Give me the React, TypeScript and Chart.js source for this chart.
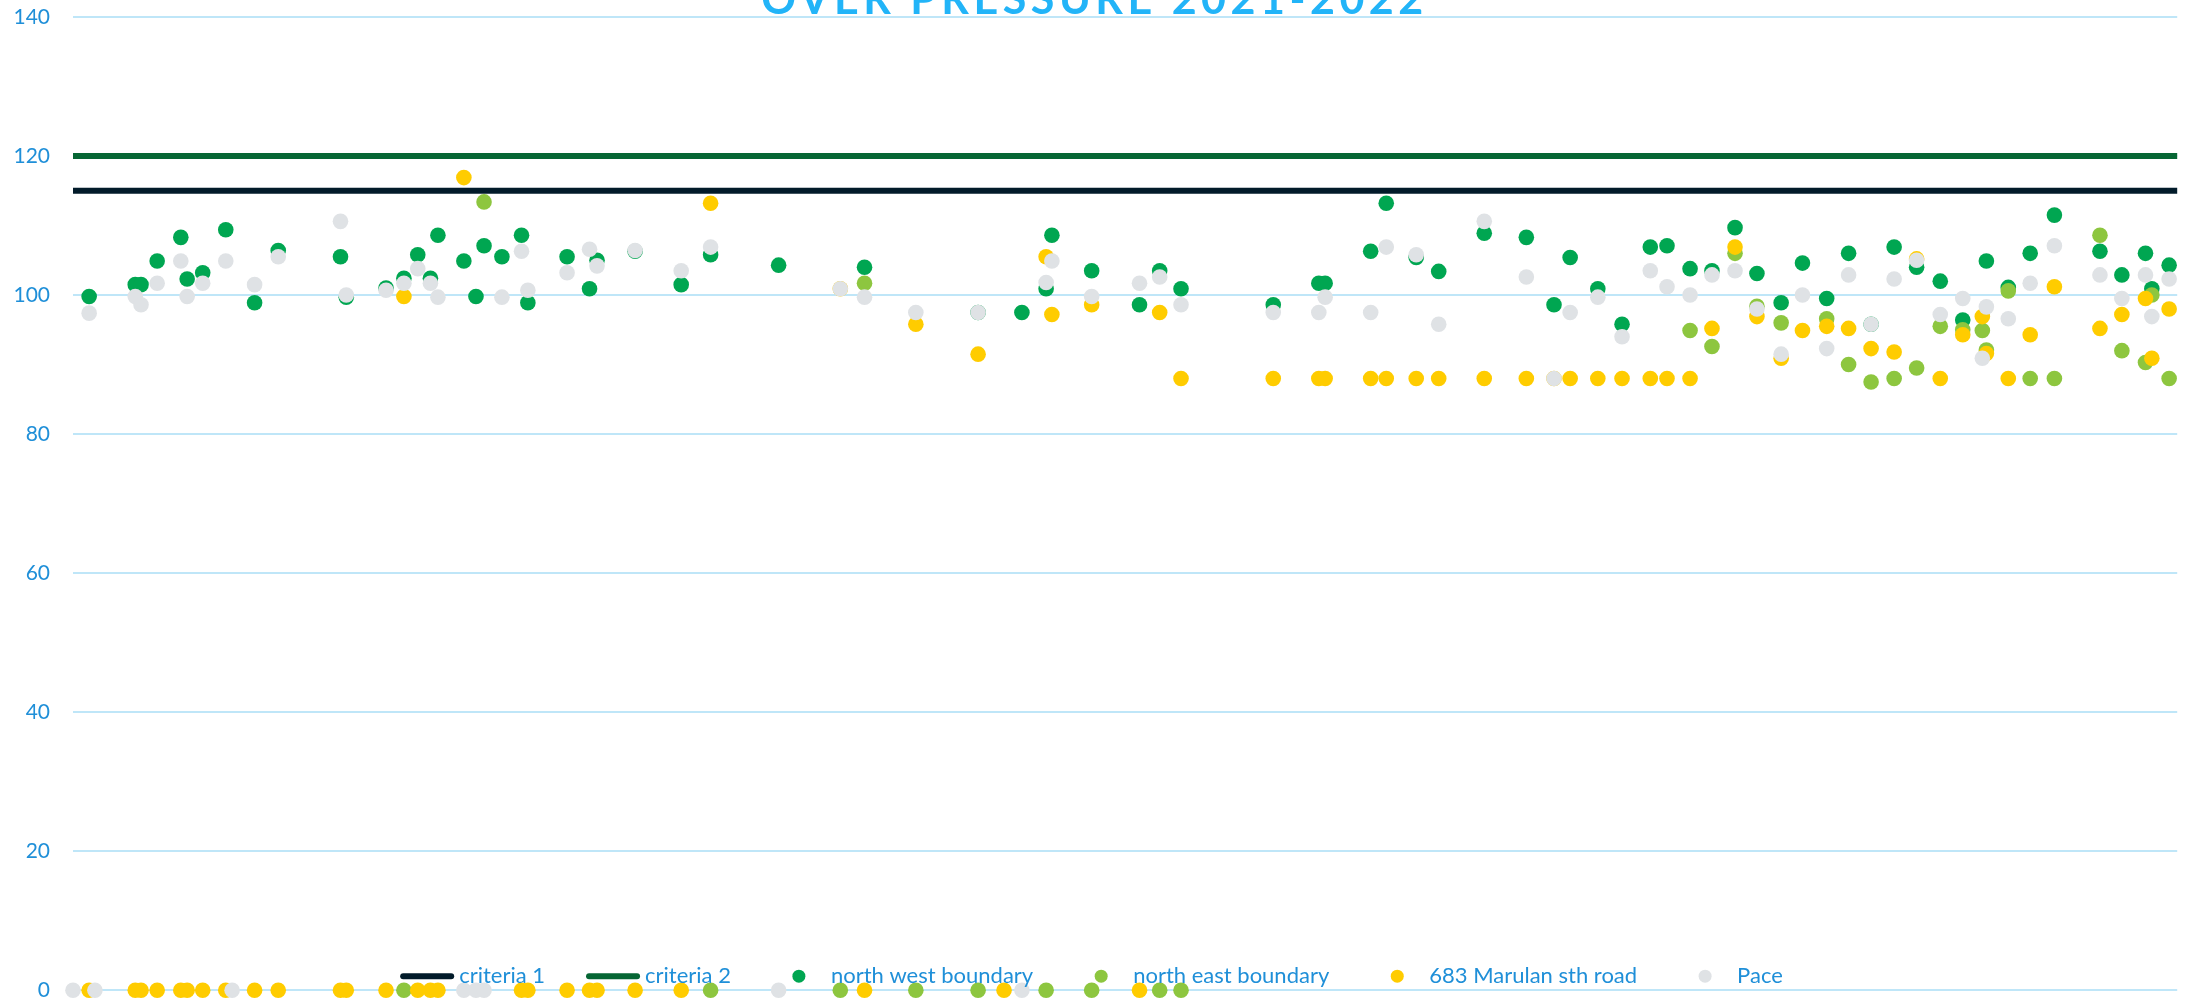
import React, { useEffect, useRef } from "react";
import { Chart, registerables } from "chart.js";

Chart.register(...registerables);

// ---- Data -------------------------------------------------------------
const chartTitle = "OVER PRESSURE 2021-2022";

// blast day (days since 1 July 2021)
const blastDay = [
  0.0, 2.8, 3.8, 10.8, 11.8, 14.6, 18.7, 19.8, 22.5, 26.5,
  27.6, 31.5, 35.6, 46.4, 47.4, 54.3, 57.4, 59.8, 62.0, 63.3,
  67.8, 69.9, 71.3, 74.4, 77.8, 78.9, 85.7, 89.6, 90.9, 97.5,
  105.5, 110.6, 122.4, 133.1, 137.3, 146.2, 157.0, 161.5, 164.6, 168.8,
  169.8, 176.7, 185.0, 188.5, 192.2, 208.2, 216.1, 217.2, 225.1, 227.8,
  233.0, 236.9, 244.8, 252.1, 256.9, 259.7, 264.5, 268.7, 273.6, 276.5,
  280.5, 284.3, 288.3, 292.1, 296.3, 300.0, 304.2, 308.0, 311.9, 315.9,
  319.8, 323.9, 327.8, 331.2, 331.9, 335.7, 339.5, 343.7, 351.6, 355.4,
  359.5, 360.6, 363.6,
];

const northWest = [
  null, 99.8, null, 101.5, 101.5, 104.9, 108.3, 102.3, 103.2, 109.4,
  null, 98.9, 106.4, 105.5, 99.7, 101.0, 102.4, 105.8, 102.4, 108.6,
  104.9, 99.8, 107.1, 105.5, 108.6, 98.9, 105.5, 100.9, 105.0, 106.3,
  101.5, 105.8, 104.3, null, 104.0, null, 97.5, null, 97.5, 100.9,
  108.6, 103.5, 98.6, 103.5, 100.9, 98.6, 101.7, 101.7, 106.3, 113.2,
  105.4, 103.4, 108.9, 108.3, 98.6, 105.4, 100.9, 95.8, 106.9, 107.1,
  103.8, 103.5, 109.7, 103.1, 98.9, 104.6, 99.5, 106.0, 95.8, 106.9,
  104.0, 102.0, 96.4, null, 104.9, 101.1, 106.0, 111.5, 106.3, 102.9,
  106.0, 100.9, 104.3,
];

const northEast = [
  null, null, null, null, null, null, null, null, null, null,
  null, null, null, null, null, null, 0, null, null, null,
  null, null, 113.4, null, null, null, null, null, null, null,
  null, 0, null, 0, 101.7, 0, 0, null, null, 0,
  null, 0, null, 0, 0, null, null, null, null, null,
  null, null, null, null, null, null, null, null, null, null,
  94.9, 92.6, 106.0, 98.4, 96.0, null, 96.6, 90.0, 87.5, 88.0,
  89.5, 95.5, 95.0, 94.9, 92.1, 100.6, 88.0, 88.0, 108.6, 92.0,
  90.3, 100.0, 88.0,
];

const marulanSthRoad = [
  null, 0, null, 0, 0, 0, 0, 0, 0, 0,
  null, 0, 0, 0, 0, 0, 99.8, 0, 0, 0,
  116.9, null, null, null, 0, 0, 0, 0, 0, 0,
  0, 113.2, null, 100.9, 0, 95.8, 91.5, 0, null, 105.5,
  97.2, 98.6, 0, 97.5, 88.0, 88.0, 88.0, 88.0, 88.0, 88.0,
  88.0, 88.0, 88.0, 88.0, 88.0, 88.0, 88.0, 88.0, 88.0, 88.0,
  88.0, 95.2, 106.9, 96.9, 90.9, 94.9, 95.5, 95.2, 92.3, 91.8,
  105.2, 88.0, 94.3, 96.9, 91.6, 88.0, 94.3, 101.2, 95.2, 97.2,
  99.5, 90.9, 98.0,
];

const pace = [
  0, 97.4, 0, 99.8, 98.6, 101.7, 104.9, 99.8, 101.7, 104.9,
  0, 101.5, 105.5, 110.6, 100.0, 100.7, 101.7, 103.8, 101.7, 99.7,
  0, 0, 0, 99.7, 106.3, 100.7, 103.2, 106.6, 104.2, 106.4,
  103.5, 106.9, 0, 100.9, 99.7, 97.5, 97.5, null, 0, 101.8,
  104.9, 99.8, 101.7, 102.6, 98.6, 97.5, 97.5, 99.7, 97.5, 106.9,
  105.8, 95.8, 110.6, 102.6, 88.0, 97.5, 99.7, 94.0, 103.5, 101.2,
  100.0, 102.9, 103.5, 98.0, 91.5, 100.0, 92.3, 102.9, 95.8, 102.3,
  105.0, 97.2, 99.5, 90.9, 98.3, 96.6, 101.7, 107.1, 102.9, 99.5,
  102.9, 96.9, 102.3,
];

const criteria1Level = 115;
const criteria2Level = 120;
const dayRange = [0, 365];
const yTickValues = [0, 20, 40, 60, 80, 100, 120, 140];

// ---- Styling ------------------------------------------------------------
const FONT = "Lato, 'Open Sans', sans-serif";
const TICK_BLUE = "#1F8FD8";
const TITLE_BLUE = "#22B4F8";
const GRID_BLUE = "#BFE6F8";

const toPoints = (vals: (number | null)[]) =>
  blastDay
    .map((d, i) => ({ x: d, y: vals[i] }))
    .filter((p) => p.y !== null && p.y !== undefined);

const titlePlugin = {
  id: "cutTitle",
  afterDraw(chart: any) {
    const ctx = chart.ctx as CanvasRenderingContext2D;
    ctx.save();
    ctx.font = `bold 43px ${FONT}`;
    (ctx as any).letterSpacing = "4.5px";
    ctx.fillStyle = TITLE_BLUE;
    ctx.textAlign = "center";
    ctx.textBaseline = "alphabetic";
    ctx.fillText(chartTitle, chart.width / 2 + 2, 14);
    ctx.restore();
  },
};

const legendPlugin = {
  id: "overlayLegend",
  afterDraw(chart: any) {
    const ctx = chart.ctx as CanvasRenderingContext2D;
    const datasets = chart.data.datasets as any[];
    ctx.save();
    ctx.font = `22px ${FONT}`;
    const symW = 54;
    const symGap = 5;
    const itemGap = 41;
    const widths = datasets.map((ds) => ctx.measureText(ds.label).width);
    const total =
      widths.reduce((a, w) => a + symW + symGap + w, 0) +
      itemGap * (datasets.length - 1);
    let x = chart.width / 2 - 1 - total / 2;
    const y = chart.chartArea.bottom - 14;
    datasets.forEach((ds, i) => {
      if (ds.type === "line") {
        ctx.strokeStyle = ds.borderColor;
        ctx.lineWidth = 6;
        ctx.lineCap = "round";
        ctx.beginPath();
        ctx.moveTo(x + 3, y);
        ctx.lineTo(x + symW - 3, y);
        ctx.stroke();
      } else {
        ctx.fillStyle = ds.backgroundColor;
        ctx.beginPath();
        ctx.arc(x + symW / 2, y, 6.5, 0, Math.PI * 2);
        ctx.fill();
      }
      ctx.fillStyle = TICK_BLUE;
      ctx.textAlign = "left";
      ctx.textBaseline = "middle";
      ctx.fillText(ds.label, x + symW + symGap, y);
      x += symW + symGap + widths[i] + itemGap;
    });
    ctx.restore();
  },
};

const scatterSet = (label: string, vals: (number | null)[], color: string, order: number) => ({
  type: "scatter" as const,
  label,
  data: toPoints(vals),
  backgroundColor: color,
  borderColor: color,
  pointRadius: 7.8,
  pointBorderWidth: 0,
  pointHoverRadius: 7.8,
  clip: false,
  order,
});

const criteriaSet = (label: string, level: number, color: string, order: number) => ({
  type: "line" as const,
  label,
  data: dayRange.map((d) => ({ x: d, y: level })),
  borderColor: color,
  backgroundColor: color,
  borderWidth: 6,
  pointRadius: 0,
  fill: false,
  clip: false,
  order,
});

export default function App() {
  const canvasRef = useRef<HTMLCanvasElement | null>(null);

  useEffect(() => {
    if (!canvasRef.current) return;
    const chart = new Chart(canvasRef.current, {
      type: "scatter",
      data: {
        datasets: [
          criteriaSet("criteria 1", criteria1Level, "#021B2A", 5),
          criteriaSet("criteria 2", criteria2Level, "#066634", 4),
          scatterSet("north west boundary", northWest, "#00A651", 3),
          scatterSet("north east boundary", northEast, "#8DC63F", 2),
          scatterSet("683 Marulan sth road", marulanSthRoad, "#FFCC00", 1),
          scatterSet("Pace", pace, "#DFE2E5", 0),
        ] as any,
      },
      options: {
        responsive: false,
        animation: false,
        events: [],
        layout: { padding: { top: 17, bottom: 7, left: 0, right: 0 } },
        plugins: {
          legend: { display: false },
          title: { display: false },
          tooltip: { enabled: false },
        },
        scales: {
          x: {
            type: "linear",
            min: dayRange[0],
            max: dayRange[1],
            display: false,
          },
          y: {
            min: yTickValues[0],
            max: yTickValues[yTickValues.length - 1],
            afterBuildTicks: (scale: any) => {
              scale.ticks = yTickValues.map((v) => ({ value: v }));
            },
            afterFit: (scale: any) => {
              scale.width = 73;
              scale.paddingTop = 0;
              scale.paddingBottom = 0;
            },
            border: { display: false },
            grid: {
              color: GRID_BLUE,
              lineWidth: 2,
              drawTicks: false,
            },
            ticks: {
              color: TICK_BLUE,
              padding: 23,
              font: { family: FONT, size: 21 },
            },
          },
        },
      },
      plugins: [titlePlugin, legendPlugin],
    });
    return () => chart.destroy();
  }, []);

  return (
    <div style={{ position: "absolute", left: 0, top: 0 }}>
      <canvas ref={canvasRef} width={2185} height={998} style={{ display: "block" }} />
    </div>
  );
}
